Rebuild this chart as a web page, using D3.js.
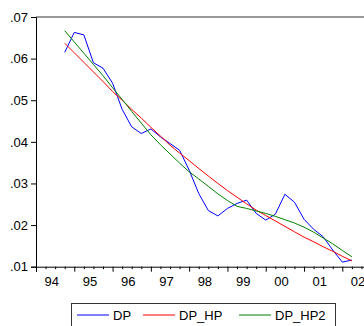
<!DOCTYPE html>
<html>
<head>
<meta charset="utf-8">
<script src="https://cdn.jsdelivr.net/npm/d3@7"></script>
<style>
  body { margin: 0; background: #fff; }
  svg { display: block; font-family: "Liberation Sans", Arial, sans-serif; }
</style>
</head>
<body>
<div id="chart"></div>
<script>
// quarterly observations
const periods = [
    "1994Q4",
    "1995Q1", "1995Q2", "1995Q3", "1995Q4",
    "1996Q1", "1996Q2", "1996Q3", "1996Q4",
    "1997Q1", "1997Q2", "1997Q3", "1997Q4",
    "1998Q1", "1998Q2", "1998Q3", "1998Q4",
    "1999Q1", "1999Q2", "1999Q3", "1999Q4",
    "2000Q1", "2000Q2", "2000Q3", "2000Q4",
    "2001Q1", "2001Q2", "2001Q3", "2001Q4",
    "2002Q1", "2002Q2"
];
const dp = [
    .0615, .0663, .0657, .0590, .0577, .0541, .0478, .0436, .0420, .0431,
    .0412, .0396, .0380, .0332, .0276, .0235, .0222, .0240, .0252, .0260,
    .0228, .0212, .0226, .0274, .0255, .0214, .0190, .0172, .0140, .0111, .0116
];
const dpHp = [
    .0637, .0614, .0591, .0568, .0545, .0521, .0500, .0478, .0457, .0435,
    .0414, .0392, .0373, .0355, .0336, .0318, .0300, .0283, .0267, .0251,
    .0236, .0223, .0210, .0197, .0184, .0171, .0160, .0148, .0137, .0125, .0114
];
const dpHp2 = [
    .0667, .0640, .0613, .0586, .0559, .0530, .0502, .0473, .0445, .0417,
    .0393, .0371, .0349, .0328, .0311, .0293, .0275, .0259, .0245, .0240,
    .0234, .0228, .0221, .0213, .0205, .0195, .0183, .0169, .0155, .0139, .0124
];
const yearLabels = ["94", "95", "96", "97", "98", "99", "00", "01", "02"];
const yTicks = [.01, .02, .03, .04, .05, .06, .07];

const width = 364, height = 326;
const plotLeft = 36, plotTop = 17, plotBottom = 266.7;

const t = periods.map(p => +p.slice(0, 4) + (+p.slice(5) - 1) / 4);

const x = d3.scaleLinear().domain([1994, 2002.566]).range([plotLeft, width]);
const y = d3.scaleLinear().domain([.01, .07]).range([plotBottom, plotTop]);

const svg = d3.select("#chart").append("svg")
    .attr("width", width)
    .attr("height", height);

// top frame line
svg.append("line")
    .attr("x1", plotLeft).attr("x2", width)
    .attr("y1", plotTop).attr("y2", plotTop)
    .attr("stroke", "#777").attr("stroke-width", 1.6);

// y axis
const yAxis = svg.append("g")
    .attr("transform", `translate(${plotLeft},0)`)
    .call(d3.axisLeft(y).tickValues(yTicks).tickSize(5).tickPadding(3)
        .tickFormat(d => d3.format(".2f")(d).replace(/^0/, "")));
yAxis.select(".domain").attr("stroke", "#000");
yAxis.selectAll("text").attr("font-size", 13).attr("fill", "#000")
    .attr("font-family", "Liberation Sans, Arial, sans-serif");

// x axis: major ticks at years, minor at quarters
const years = d3.range(1994, 2003);
const quarterTicks = d3.range(1994, 2002.57, 0.25).filter(v => v % 1 !== 0);

const xAxis = svg.append("g")
    .attr("transform", `translate(0,${plotBottom})`)
    .call(d3.axisBottom(x).tickValues(years).tickSize(5).tickFormat(""));
xAxis.select(".domain").attr("stroke", "#000");

svg.append("g")
    .attr("transform", `translate(0,${plotBottom})`)
    .call(d3.axisBottom(x).tickValues(quarterTicks).tickSize(2.5).tickFormat(""))
    .select(".domain").remove();

svg.selectAll("text.year")
    .data(yearLabels)
    .enter()
    .append("text")
    .attr("class", "year")
    .attr("x", (d, i) => x(years[i] + 0.41))
    .attr("y", 285.5)
    .attr("text-anchor", "middle")
    .attr("font-size", 13)
    .text(d => d);

// series
const series = [
    { name: "DP", values: dp, color: "#0000ff" },
    { name: "DP_HP", values: dpHp, color: "#ff0000" },
    { name: "DP_HP2", values: dpHp2, color: "#008000" }
];

const line = d3.line()
    .x(d => x(d[0]))
    .y(d => y(d[1]));

svg.selectAll("path.series")
    .data(series)
    .enter()
    .append("path")
    .attr("class", "series")
    .attr("fill", "none")
    .attr("stroke", d => d.color)
    .attr("stroke-width", 1)
    .attr("d", d => line(d.values.map((v, i) => [t[i], v])));

// legend
svg.append("rect")
    .attr("x", 71.5).attr("y", 303.5)
    .attr("width", 264).attr("height", 30)
    .attr("fill", "#fff")
    .attr("stroke", "#333");

const legendX = [77, 143, 239];
const legend = svg.selectAll("g.legend")
    .data(series)
    .enter()
    .append("g")
    .attr("class", "legend")
    .attr("transform", (d, i) => `translate(${legendX[i]},315)`);

legend.append("line")
    .attr("x1", 0).attr("x2", 32)
    .attr("stroke", d => d.color);

legend.append("text")
    .attr("x", 36)
    .attr("y", 4.5)
    .attr("font-size", 13)
    .text(d => d.name);
</script>
</body>
</html>
